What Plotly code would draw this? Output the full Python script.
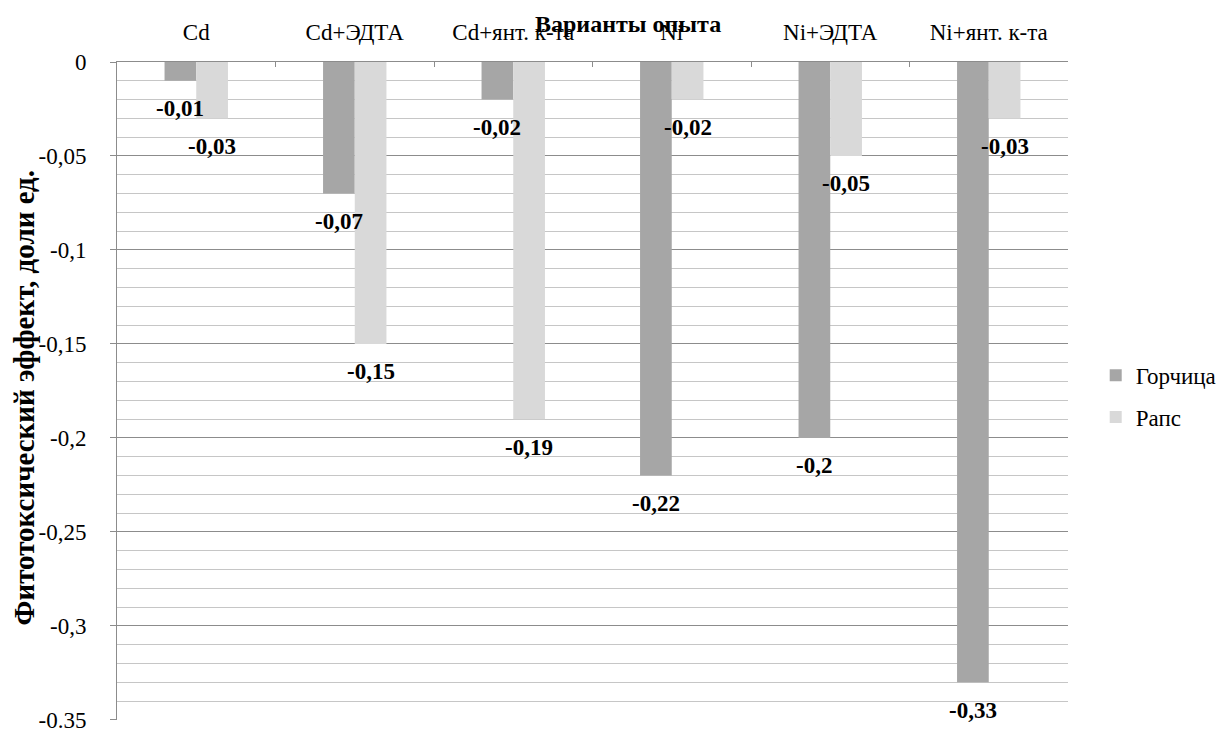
import plotly.graph_objects as go

# Experimental variants (category axis along the top)
variants = ["Cd", "Cd+ЭДТА", "Cd+янт. к-та", "Ni", "Ni+ЭДТА", "Ni+янт. к-та"]

# Phytotoxic effect, fractions of a unit
gorchitsa = [-0.01, -0.07, -0.02, -0.22, -0.20, -0.33]
raps = [-0.03, -0.15, -0.19, -0.02, -0.05, -0.03]

series_names = ["Горчица", "Рапс"]
series_colors = ["#A6A6A6", "#D9D9D9"]

y_tick_vals = [0, -0.05, -0.1, -0.15, -0.2, -0.25, -0.3, -0.35]
y_tick_text = ["0", "-0,05", "-0,1", "-0,15", "-0,2", "-0,25", "-0,3", "-0.35"]

FONT = "Times New Roman, Liberation Serif, DejaVu Serif, serif"
AXIS_GRAY = "#8C8C8C"


def fmt(v):
    return f"{v:g}".replace(".", ",")


fig = go.Figure()
for name, vals, color in zip(series_names, [gorchitsa, raps], series_colors):
    fig.add_trace(go.Bar(
        x=variants, y=vals, name=name,
        marker=dict(color=color, line=dict(width=0)),
        legendgroup=name,
    ))

# Value labels under each bar end
bar_shift = [-16, 16]
for s, vals in enumerate([gorchitsa, raps]):
    for cat, v in zip(variants, vals):
        fig.add_annotation(
            x=cat, y=v, xref="x", yref="y",
            text=f"<b>{fmt(v)}</b>", showarrow=False,
            xshift=bar_shift[s], yshift=-28,
            xanchor="center", yanchor="middle",
            font=dict(family=FONT, size=23, color="black"),
        )

# Axis titles
fig.add_annotation(
    x=0.537, y=1.058, xref="paper", yref="paper",
    text="<b>Варианты опыта</b>", showarrow=False,
    xanchor="center", yanchor="middle",
    font=dict(family=FONT, size=24, color="black"),
)
fig.add_annotation(
    x=-0.098, y=0.49, xref="paper", yref="paper",
    text="<b>Фитотоксический эффект, доли ед.</b>", showarrow=False,
    textangle=-90, xanchor="center", yanchor="middle",
    font=dict(family=FONT, size=29, color="black"),
)

fig.update_layout(
    width=1227, height=731,
    margin=dict(l=117, r=159, t=62, b=11, autoexpand=False),
    paper_bgcolor="white", plot_bgcolor="white",
    barmode="group", bargap=0.6, bargroupgap=0,
    font=dict(family=FONT, size=23, color="black"),
    showlegend=True,
    legend=dict(
        xref="container", yref="container",
        x=0.893, y=0.458, xanchor="left", yanchor="middle",
        font=dict(family=FONT, size=23, color="black"),
        tracegroupgap=9, bgcolor="rgba(0,0,0,0)",
        itemwidth=30,
    ),
    xaxis=dict(
        side="top", type="category", automargin=False,
        showline=True, linecolor=AXIS_GRAY, linewidth=1,
        ticks="inside", tickson="boundaries", ticklen=5, tickcolor=AXIS_GRAY,
        showgrid=False, zeroline=False,
        tickfont=dict(family=FONT, size=23, color="black"),
        ticklabelstandoff=12,
    ),
    yaxis=dict(
        range=[-0.35005, 0], automargin=False,
        tickmode="array", tickvals=y_tick_vals, ticktext=y_tick_text,
        showline=True, linecolor=AXIS_GRAY, linewidth=1,
        ticks="outside", ticklen=6, tickcolor=AXIS_GRAY,
        showgrid=True, gridcolor=AXIS_GRAY, gridwidth=1,
        zeroline=False,
        minor=dict(dtick=0.01, tick0=0, showgrid=True, gridcolor="#C6C6C6", gridwidth=1, ticks=""),
        tickfont=dict(family=FONT, size=23, color="black"),
        ticklabelstandoff=19,
        ticklabeloverflow="allow",
    ),
)

fig.write_html("out.html")
